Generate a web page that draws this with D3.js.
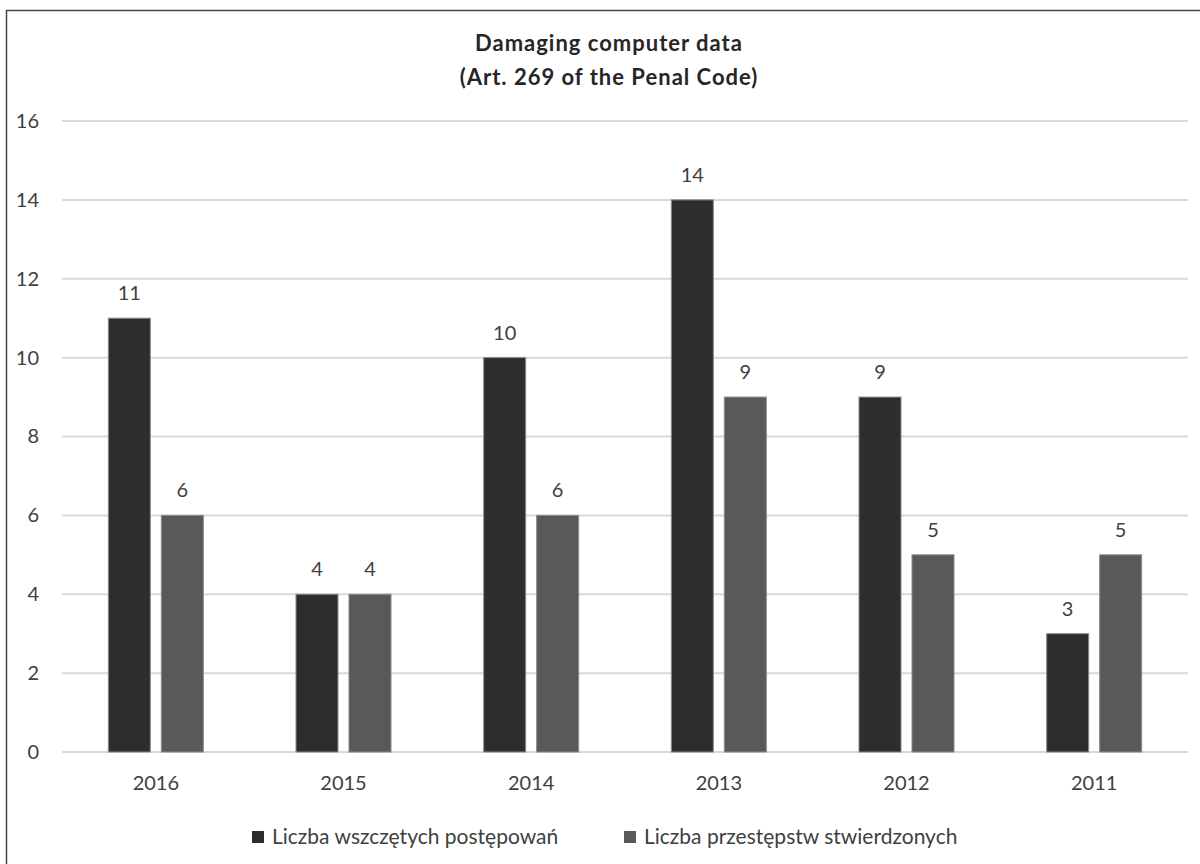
<!DOCTYPE html>
<html>
<head>
<meta charset="utf-8">
<script src="https://cdn.jsdelivr.net/npm/d3@7"></script>
<style>
  html, body { margin: 0; padding: 0; background: #fff; }
  svg text { font-family: Lato, "Open Sans", sans-serif; fill: #404040; }
</style>
</head>
<body>
<div id="chart"></div>
<script>
var years = ['2016', '2015', '2014', '2013', '2012', '2011'];
var initiated = [11, 4, 10, 14, 9, 3];
var confirmed = [6, 4, 6, 9, 5, 5];
var seriesNames = ['Liczba wszczętych postępowań', 'Liczba przestępstw stwierdzonych'];
var seriesColors = ['#2d2d2d', '#595959'];
var yTicks = [0, 2, 4, 6, 8, 10, 12, 14, 16];
var titleLines = ['Damaging computer data', '(Art. 269 of the Penal Code)'];

(function () {
    var W = 1200, H = 864;
    var svg = d3.select('#chart').append('svg')
        .attr('width', W).attr('height', H);

    // outer frame
    svg.append('rect')
        .attr('x', 6.5).attr('y', 10.5)
        .attr('width', 1210).attr('height', 870)
        .attr('fill', '#fff').attr('stroke', '#444').attr('stroke-width', 1.5);

    var plot = { left: 62, right: 1188, top: 121, bottom: 752 };

    var x = d3.scaleBand().domain(years).range([plot.left, plot.right]);
    var x1 = d3.scaleBand().domain([0, 1]).range([-47.5, 47.5]).paddingInner(0.2075);
    var y = d3.scaleLinear().domain([0, 16]).range([plot.bottom, plot.top]);

    // title
    svg.append('g').selectAll('text').data(titleLines).enter().append('text')
        .attr('x', 609).attr('y', function (d, i) { return 51 + i * 34; })
        .attr('text-anchor', 'middle')
        .style('font-size', '22px').style('font-weight', 'bold')
        .style('letter-spacing', '1px')
        .style('fill', '#262626')
        .text(function (d) { return d; });

    // grid lines
    svg.append('g').selectAll('line').data(yTicks).enter().append('line')
        .attr('x1', plot.left).attr('x2', plot.right)
        .attr('y1', function (d) { return y(d); })
        .attr('y2', function (d) { return y(d); })
        .attr('stroke', '#d9d9d9').attr('stroke-width', 2);

    // y axis labels
    var yAxis = d3.axisLeft(y).tickValues(yTicks).tickSize(0).tickPadding(0);
    var gy = svg.append('g').attr('transform', 'translate(39,0)').call(yAxis);
    gy.select('.domain').remove();
    gy.selectAll('text').style('font-size', '20px').style('font-family', 'Lato, sans-serif')
        .attr('fill', '#404040');

    // x axis labels
    var xAxis = d3.axisBottom(x).tickSize(0).tickPadding(0);
    var gx = svg.append('g').attr('transform', 'translate(0,776)').call(xAxis);
    gx.select('.domain').remove();
    gx.selectAll('text').style('font-size', '20px').style('font-family', 'Lato, sans-serif')
        .attr('fill', '#404040');

    // bars
    var allSeries = [initiated, confirmed];
    var groups = svg.append('g').selectAll('g').data(years).enter().append('g')
        .attr('transform', function (d) { return 'translate(' + (x(d) + x.bandwidth() / 2) + ',0)'; });

    groups.each(function (year, gi) {
        var g = d3.select(this);
        allSeries.forEach(function (vals, si) {
            var v = vals[gi];
            g.append('rect')
                .attr('x', x1(si))
                .attr('y', y(v))
                .attr('width', x1.bandwidth())
                .attr('height', y(0) - y(v))
                .attr('fill', seriesColors[si])
                .attr('stroke', '#8a8a8a').attr('stroke-width', 1);
            g.append('text')
                .attr('x', x1(si) + x1.bandwidth() / 2)
                .attr('y', y(v) - 18)
                .attr('text-anchor', 'middle')
                .style('font-size', '20px')
                .text(v);
        });
    });

    // legend
    var legendX = [252, 624];
    var lg = svg.append('g').selectAll('g').data(seriesNames).enter().append('g')
        .attr('transform', function (d, i) { return 'translate(' + legendX[i] + ',844)'; });
    lg.append('rect').attr('x', 0).attr('y', -13).attr('width', 12).attr('height', 12)
        .attr('fill', function (d, i) { return seriesColors[i]; });
    lg.append('text').attr('x', 20).attr('y', 0)
        .style('font-size', '21px')
        .text(function (d) { return d; });
})();
</script>
</body>
</html>
